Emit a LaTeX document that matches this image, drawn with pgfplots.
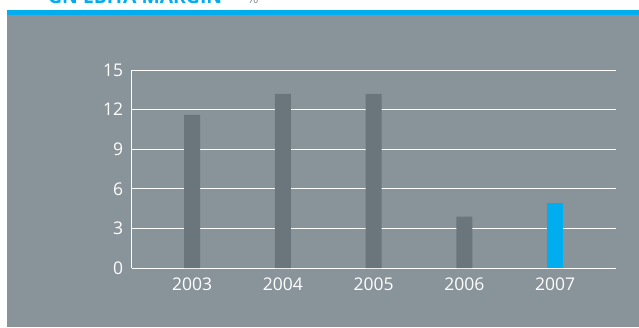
\documentclass[border=0pt]{standalone}
\usepackage{fontspec}
\setmainfont{Open Sans}
\usepackage{pgfplots}
\pgfplotsset{compat=1.18}
\definecolor{bg}{HTML}{89939A}
\definecolor{barg}{HTML}{6A757C}
\definecolor{gnblue}{HTML}{00AEEF}
\begin{document}
\begin{tikzpicture}[x=1pt,y=1pt]
\useasboundingbox (0,0) rectangle (639,327);
\fill[bg] (7,0) rectangle (639,312);
\fill[gnblue] (7,312) rectangle (639,317);
\begin{scope}
\clip (0,0) rectangle (639,327);
\node[anchor=base west, inner sep=0, text=gnblue] at (48,323) {\resizebox{174pt}{!}{\bfseries GN EBITA MARGIN}};
\node[anchor=base west, inner sep=0, text=bg] at (247,323) {\fontsize{14}{14}\selectfont\%};
\end{scope}
\begin{axis}[
  at={(131.7pt,59pt)}, anchor=south west,
  scale only axis, width=484.3pt, height=198pt,
  xmin=-0.665, xmax=4.67, ymin=0, ymax=15,
  ytick={0,3,6,9,12,15},
  xtick={0,1,2,3,4},
  xticklabels={2003,2004,2005,2006,2007},
  axis lines=left,
  axis line style={-, white, line width=1pt},
  ymajorgrids,
  grid style={white, line width=0.9pt},
  major tick length=0pt,
  tick label style={white, font=\fontsize{17.5}{17.5}\selectfont},
  yticklabel style={anchor=east, inner sep=0pt, xshift=-8.4pt},
  xticklabel style={anchor=base, inner sep=0pt, yshift=-22.6pt},
  /pgf/number format/assume math mode=true,
  clip=false,
]
\addplot[ybar, bar width=16pt, bar shift=0pt, fill=barg, draw=none] coordinates {(0,11.6) (1,13.2) (2,13.2) (3,3.9)};
\addplot[ybar, bar width=16pt, bar shift=0pt, fill=gnblue, draw=none] coordinates {(4,4.9)};
\end{axis}
\end{tikzpicture}
\end{document}
